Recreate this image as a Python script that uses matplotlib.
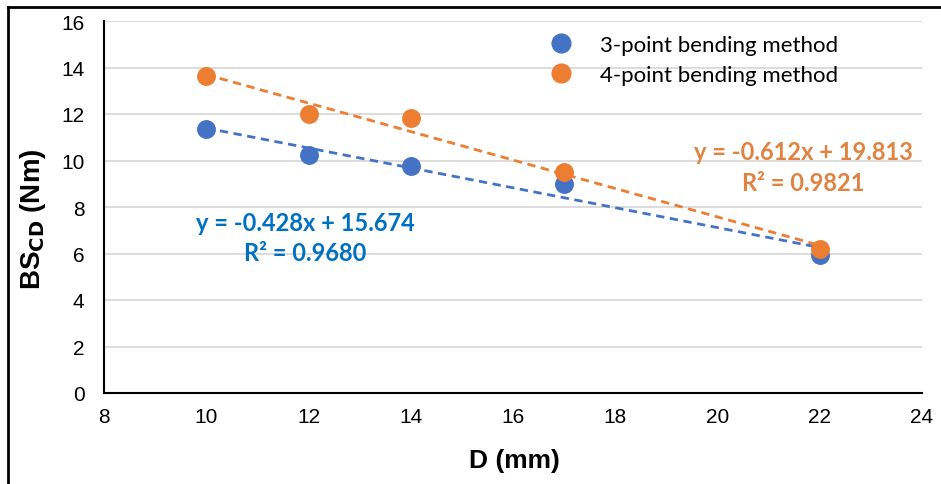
import matplotlib
matplotlib.use("Agg")
import matplotlib.pyplot as plt
import numpy as np
from matplotlib.lines import Line2D

# Data
d_mm = [10, 12, 14, 17, 22]
bs_3pt = [11.35, 10.24, 9.75, 9.0, 5.95]
bs_4pt = [13.63, 12.02, 11.83, 9.52, 6.2]
fit_3pt = (-0.428, 15.674)
fit_4pt = (-0.612, 19.813)
eq_3pt = ["y = -0.428x + 15.674", "R² = 0.9680"]
eq_4pt = ["y = -0.612x + 19.813", "R² = 0.9821"]
series_names = ["3-point bending method", "4-point bending method"]
x_ticks = [8, 10, 12, 14, 16, 18, 20, 22, 24]
y_ticks = [0, 2, 4, 6, 8, 10, 12, 14, 16]

blue = "#4472C4"
orange = "#ED7D31"
blue_txt = "#0070C0"
orange_txt = "#E08240"
tick_font = "Liberation Sans"

fig = plt.figure(figsize=(9.41, 4.85), dpi=100)
ax = fig.add_axes([104/941, 91/485, 818/941, 372/485])

xfit = np.array([min(d_mm), max(d_mm)])
ax.plot(xfit, fit_3pt[0]*xfit + fit_3pt[1], color=blue, lw=2.0, ls=(0, (3, 2)), zorder=2)
ax.plot(xfit, fit_4pt[0]*xfit + fit_4pt[1], color=orange, lw=2.0, ls=(0, (3, 2)), zorder=2)
ax.scatter(d_mm, bs_3pt, s=185, color=blue, zorder=3, linewidths=0)
ax.scatter(d_mm, bs_4pt, s=185, color=orange, zorder=4, linewidths=0)

ax.set_xlim(8, 24)
ax.set_ylim(0, 16)
ax.set_xticks(x_ticks)
ax.set_yticks(y_ticks)
ax.yaxis.grid(True, color="#D9D9D9", lw=1.3)
ax.set_axisbelow(True)
for s in ["top", "right"]:
    ax.spines[s].set_visible(False)
for s in ["left", "bottom"]:
    ax.spines[s].set_color("black")
    ax.spines[s].set_linewidth(1.5)
ax.tick_params(length=0, labelsize=15)
ax.tick_params(axis="x", pad=10)
ax.tick_params(axis="y", pad=14)
for lab in ax.get_xticklabels() + ax.get_yticklabels():
    lab.set_family(tick_font)

ax.set_xlabel("D (mm)", fontsize=19, fontweight="bold", family=tick_font)
ax.set_ylabel(r"BS$_{\mathbf{CD}}$ (Nm)", fontsize=20, fontweight="bold", family=tick_font)
ax.xaxis.set_label_coords(0.502, -0.148)
ax.yaxis.set_label_coords(-0.068, 0.47)

handles = [Line2D([], [], marker="o", ls="", color=blue, markersize=13.5),
           Line2D([], [], marker="o", ls="", color=orange, markersize=13.5)]
leg = ax.legend(handles, series_names, loc="upper left", bbox_to_anchor=((550 - 104) / 818, 0.962),
                frameon=False, prop={"family": "Lato", "size": 16}, borderpad=0, borderaxespad=0,
                handlelength=0.95, handletextpad=1.3, labelspacing=0.45)

ax.text(11.93, 6.68, "\n".join(eq_3pt), ha="center", va="center", color=blue_txt,
        fontsize=17, fontweight="bold", family="Lato", linespacing=1.4)
ax.text(21.68, 9.72, "\n".join(eq_4pt), ha="center", va="center", color=orange_txt,
        fontsize=17, fontweight="bold", family="Lato", linespacing=1.4)

# outer frame (top and left)
fig.add_artist(Line2D([8/941, 8/941], [0, 1 - 8/485], transform=fig.transFigure, color="black", lw=2))
fig.add_artist(Line2D([8/941, 1], [1 - 8/485, 1 - 8/485], transform=fig.transFigure, color="black", lw=2))

fig.savefig("out.png", dpi=100)
